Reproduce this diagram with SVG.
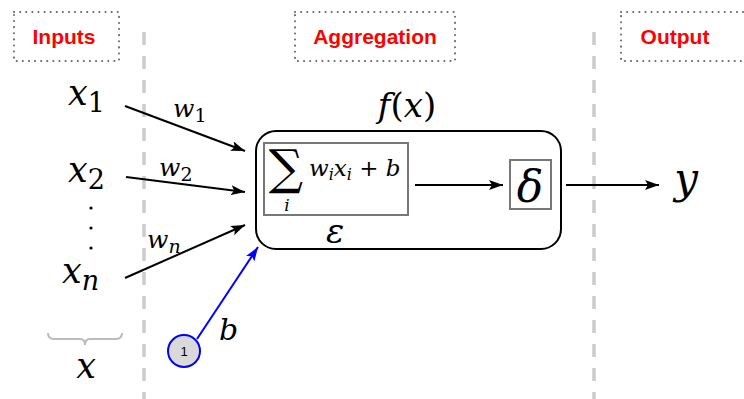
<svg xmlns="http://www.w3.org/2000/svg" width="744" height="399" viewBox="0 0 744 399">
<style>
.hdr{fill:none;stroke:#666;stroke-width:2;stroke-dasharray:0.1 6;stroke-linecap:round}
.ht{font-family:"Liberation Sans",Arial,sans-serif;font-weight:bold;font-size:21px;fill:#ff0000;text-anchor:middle}
.sep{stroke:#cccccc;stroke-width:3.5;stroke-dasharray:13 11}
.m{font-family:"DejaVu Serif",serif;font-style:italic;fill:#000}
.r{font-family:"DejaVu Serif",serif;font-style:normal}
.c{stroke:#000;stroke-width:2;fill:none}
</style>
<defs>
<marker id="ak" viewBox="0 0 14 10" refX="14" refY="5" markerWidth="14" markerHeight="10" orient="auto" markerUnits="userSpaceOnUse">
<path d="M0,0 L14,5 L0,10 L3,5 Z" fill="#000"/>
</marker>
<marker id="ab" viewBox="0 0 14 10" refX="14" refY="5" markerWidth="14" markerHeight="10" orient="auto" markerUnits="userSpaceOnUse">
<path d="M0,0 L14,5 L0,10 L3,5 Z" fill="#0000ff"/>
</marker>
</defs>
<rect width="744" height="399" fill="#fff"/>

<g id="separators">
<line class="sep" x1="144" y1="32" x2="144" y2="399"/>
<line class="sep" x1="594" y1="32" x2="594" y2="399"/>
</g>

<g id="hdr-inputs">
<rect class="hdr" x="14" y="12" width="105" height="49"/>
<text class="ht" x="64" y="44">Inputs</text>
</g>
<g id="hdr-aggregation">
<rect class="hdr" x="295" y="12" width="160" height="49"/>
<text class="ht" x="375" y="44">Aggregation</text>
</g>
<g id="hdr-output">
<rect class="hdr" x="621" y="12" width="130" height="49"/>
<text class="ht" x="675" y="44">Output</text>
</g>

<g id="connectors">
<line class="c" x1="125" y1="106" x2="245" y2="151" marker-end="url(#ak)"/>
<line class="c" x1="126" y1="177" x2="245" y2="192" marker-end="url(#ak)"/>
<line class="c" x1="125" y1="278" x2="245" y2="225" marker-end="url(#ak)"/>
<line x1="197" y1="339" x2="258" y2="247" stroke="#0000ff" stroke-width="2" marker-end="url(#ab)"/>
<line class="c" x1="415" y1="185" x2="503" y2="185" marker-end="url(#ak)"/>
<line class="c" x1="566" y1="185" x2="659" y2="185" marker-end="url(#ak)"/>
<text class="m" x="173" y="117" font-size="25">w<tspan class="r" font-size="19" dy="5">1</tspan></text>
<text class="m" x="159" y="176" font-size="25">w<tspan class="r" font-size="19" dy="5">2</tspan></text>
<text class="m" x="147" y="248" font-size="25">w<tspan font-size="19" dy="5">n</tspan></text>
<text class="m" x="219" y="340" font-size="30">b</text>
</g>

<g id="x1"><text class="m" x="68" y="105" font-size="35">x<tspan class="r" font-size="27" dy="7">1</tspan></text></g>
<g id="x2"><text class="m" x="68" y="182" font-size="35">x<tspan class="r" font-size="27" dy="7">2</tspan></text></g>
<g id="dots">
<circle cx="91" cy="208" r="1.6" fill="#000"/>
<circle cx="91" cy="228" r="1.6" fill="#000"/>
<circle cx="91" cy="248" r="1.6" fill="#000"/>
</g>
<g id="xn"><text class="m" x="62" y="283" font-size="35">x<tspan font-size="27" dy="7">n</tspan></text></g>
<g id="x-brace">
<path d="M48,333 Q48,339 54,339 L80,339 Q85,339 85,345 Q85,339 90,339 L116,339 Q122,339 122,333" fill="none" stroke="#bbbbbb" stroke-width="2"/>
<text class="m" x="86" y="378" font-size="35" text-anchor="middle">x</text>
</g>

<g id="bias">
<circle cx="184" cy="351" r="16" fill="#d9d9d9" stroke="#0000ff" stroke-width="2"/>
<text x="184" y="356" font-family="Liberation Sans,Arial,sans-serif" font-size="13" text-anchor="middle" fill="#000">1</text>
</g>

<g id="neuron">
<text class="m" x="407" y="117" font-size="34" text-anchor="middle">f<tspan class="r">(</tspan>x<tspan class="r">)</tspan></text>
<rect x="256" y="131" width="305" height="118" rx="20" fill="none" stroke="#000" stroke-width="2"/>
</g>
<g id="sum">
<rect x="264" y="143" width="144" height="72" fill="none" stroke="#777" stroke-width="2"/>
<text class="r" x="286" y="184" font-size="48" text-anchor="middle">∑</text>
<text class="m" x="287" y="211" font-size="17" text-anchor="middle">i</text>
<text class="m" x="309" y="176" font-size="23">w<tspan font-size="16" dy="4">i</tspan><tspan dy="-4">x</tspan><tspan font-size="16" dy="4">i</tspan><tspan class="r" dy="-4"> + </tspan>b</text>
<text class="m" x="335" y="243" font-size="34" text-anchor="middle">ε</text>
</g>
<g id="activation">
<rect x="510" y="160" width="41" height="49" fill="none" stroke="#777" stroke-width="2"/>
<text class="m" x="530" y="202" font-size="44" text-anchor="middle">δ</text>
</g>
<g id="y"><text class="m" x="686" y="193" font-size="42" text-anchor="middle">y</text></g>
</svg>
